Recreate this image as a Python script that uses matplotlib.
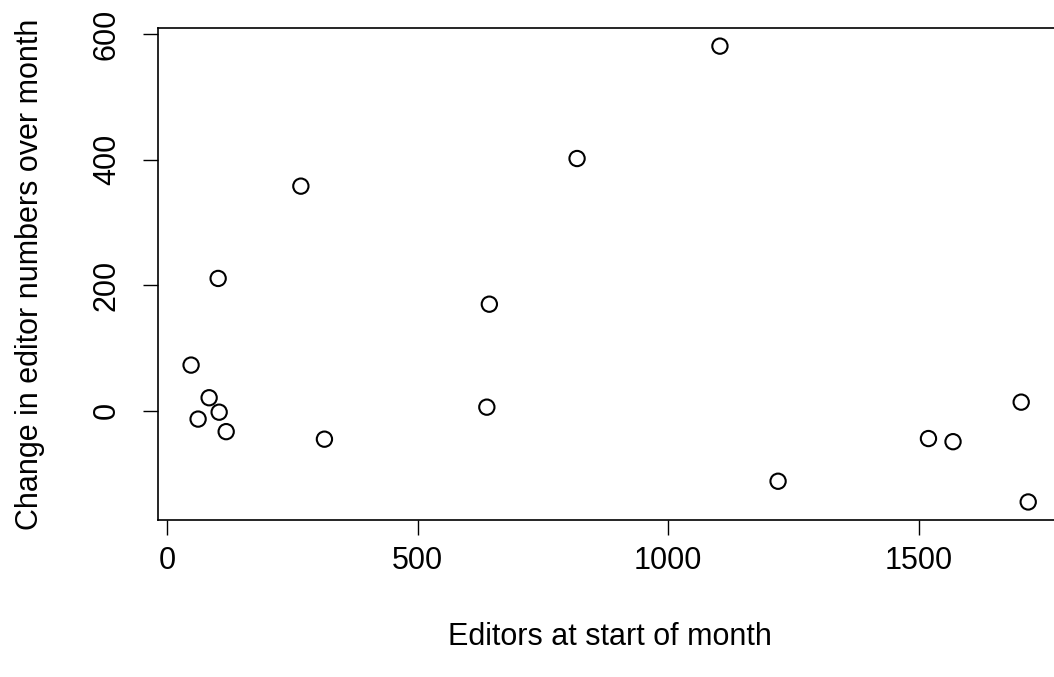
import matplotlib
matplotlib.use("Agg")
import matplotlib.pyplot as plt
import numpy as np

editors_start = [48, 62, 84, 102, 104, 118, 267, 314, 638, 643, 818, 1103, 1219, 1519, 1568, 1704, 1718]
editor_change = [73, -13, 21, 211, -2, -33, 358, -45, 6, 170, 402, 581, -112, -44, -49, 14, -145]
x_ticks = [0, 500, 1000, 1500]
y_ticks = [0, 200, 400, 600]
x_label = "Editors at start of month"
y_label = "Change in editor numbers over month"

plt.rcParams['font.family'] = ['Liberation Sans', 'DejaVu Sans']

W, H = 1054, 677
fig = plt.figure(figsize=(W / 100, H / 100), dpi=100)
left, right, top, bottom = 157.6, 1061.7, 27.9, 520.2
ax = fig.add_axes([left / W, 1 - bottom / H, (right - left) / W, (bottom - top) / H])

ax.scatter(editors_start, editor_change, s=11 ** 2, facecolors='none',
           edgecolors='black', linewidths=1.5, zorder=3)

x = np.array(editors_start, float)
y = np.array(editor_change, float)
dx = (x.max() - x.min()) * 0.04
dy = (y.max() - y.min()) * 0.04
ax.set_xlim(x.min() - dx, x.max() + dx)
ax.set_ylim(y.min() - dy, y.max() + dy)

ax.set_xticks(x_ticks)
ax.set_yticks(y_ticks)
ax.set_xticklabels([str(t) for t in x_ticks], fontsize=22)
ax.set_yticklabels([str(t) for t in y_ticks], fontsize=22, rotation=90, va='center')
ax.tick_params(axis='x', length=10.8, width=1.0, pad=8)
ax.tick_params(axis='y', length=10.8, width=1.0, pad=15)
for s in ax.spines.values():
    s.set_linewidth(1.2)

ax.set_xlabel(x_label, fontsize=22, labelpad=33)
ax.set_ylabel(y_label, fontsize=22, labelpad=34)

fig.savefig("out.png", dpi=100)
